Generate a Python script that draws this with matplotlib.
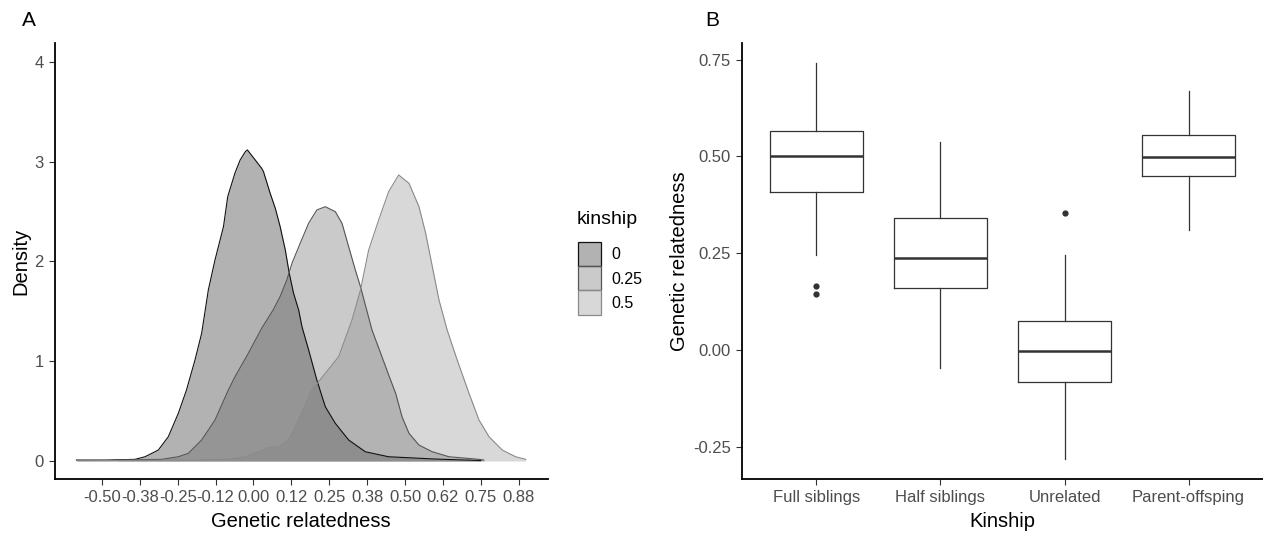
import numpy as np
import matplotlib
matplotlib.use("Agg")
import matplotlib.pyplot as plt
from matplotlib.patches import Patch

plt.rcParams['font.family'] = ['Liberation Sans', 'DejaVu Sans']

# ---- panel A: density curves ----
kin_levels = ["0", "0.25", "0.5"]

x_kin0 = [-0.584, -0.485, -0.391, -0.358, -0.314, -0.281, -0.248, -0.221, -0.193, -0.171,
          -0.154, -0.149, -0.127, -0.099, -0.085, -0.061, -0.044, -0.027, -0.020, 0.027,
          0.033, 0.055, 0.072, 0.088, 0.105, 0.118, 0.132, 0.149, 0.160, 0.182,
          0.209, 0.237, 0.270, 0.314, 0.369, 0.446, 0.600, 0.750]
d_kin0 = [0.01, 0.01, 0.017, 0.043, 0.11, 0.244, 0.478, 0.712, 1.013, 1.28,
          1.614, 1.714, 2.015, 2.349, 2.65, 2.887, 3.017, 3.10, 3.118, 2.934,
          2.90, 2.684, 2.533, 2.349, 2.115, 1.882, 1.684, 1.514, 1.346, 1.113,
          0.812, 0.544, 0.378, 0.211, 0.093, 0.043, 0.02, 0.005]

x_kin25 = [-0.446, -0.303, -0.248, -0.215, -0.171, -0.127, -0.083, -0.061, -0.017, 0.027,
           0.066, 0.088, 0.110, 0.127, 0.154, 0.182, 0.209, 0.237, 0.270, 0.292,
           0.314, 0.336, 0.353, 0.391, 0.436, 0.446, 0.469, 0.490, 0.513, 0.546,
           0.590, 0.645, 0.744, 0.760]
d_kin25 = [0.01, 0.017, 0.043, 0.077, 0.211, 0.411, 0.712, 0.845, 1.08, 1.33,
           1.52, 1.65, 1.815, 1.982, 2.182, 2.383, 2.516, 2.549, 2.499, 2.383,
           2.148, 1.915, 1.747, 1.313, 0.945, 0.862, 0.679, 0.444, 0.278, 0.16,
           0.093, 0.043, 0.017, 0.01]

x_kin5 = [-0.580, -0.200, -0.100, -0.083, -0.027, 0.017, 0.050, 0.083, 0.116, 0.149,
          0.193, 0.237, 0.281, 0.325, 0.353, 0.380, 0.413, 0.446, 0.479, 0.513,
          0.546, 0.568, 0.590, 0.612, 0.639, 0.672, 0.711, 0.744, 0.777, 0.821,
          0.865, 0.898]
d_kin5 = [0.003, 0.01, 0.015, 0.017, 0.043, 0.093, 0.137, 0.143, 0.211, 0.411,
          0.712, 0.879, 1.046, 1.414, 1.714, 2.115, 2.416, 2.70, 2.867, 2.784,
          2.549, 2.283, 1.948, 1.614, 1.313, 1.013, 0.679, 0.411, 0.244, 0.11,
          0.043, 0.017]

density_ticks = [-0.5, -0.375, -0.25, -0.125, 0.0, 0.125, 0.25, 0.375, 0.5, 0.625, 0.75, 0.875]

# ---- panel B: box plot summaries ----
kinship = ["Full siblings", "Half siblings", "Unrelated", "Parent-offsping"]
q1 = [0.409, 0.160, -0.083, 0.450]
med = [0.500, 0.238, -0.004, 0.499]
q3 = [0.566, 0.340, 0.074, 0.555]
whis_lo = [0.246, -0.046, -0.283, 0.310]
whis_hi = [0.740, 0.536, 0.244, 0.669]
outliers = [[0.165, 0.145], [], [0.354], []]

fill_cols = ["#000000", "#525252", "#808080"]
line_cols = ["#111111", "#555555", "#8a8a8a"]
alpha = 0.3
tick_col = "#4d4d4d"

fig = plt.figure(figsize=(12.63, 5.39), dpi=100)
axA = fig.add_axes([0.0435, 0.1113, 0.390, 0.809])
axB = fig.add_axes([0.5875, 0.1113, 0.4125, 0.809])

curves = [(x_kin0, d_kin0), (x_kin25, d_kin25), (x_kin5, d_kin5)]
for (xs, ds), fc, lc in zip(curves, fill_cols, line_cols):
    axA.fill_between(xs, 0, ds, color=fc, alpha=alpha, linewidth=0)
    axA.plot(xs, ds, color=lc, linewidth=0.8)

axA.set_xlim(-0.655, 0.97)
axA.set_ylim(-0.18, 4.19)
axA.set_xticks(density_ticks)
axA.set_xticklabels(["%.2f" % t for t in density_ticks])
axA.set_yticks([0, 1, 2, 3, 4])
axA.set_xlabel("Genetic relatedness", fontsize=14.5, labelpad=5)
axA.set_ylabel("Density", fontsize=14.5, labelpad=3)

# legend: title as separate text so the gap to the keys matches
handles = [Patch(facecolor=matplotlib.colors.to_rgba(fc, alpha), edgecolor=lc, linewidth=0.9)
           for fc, lc in zip(fill_cols, line_cols)]
fig.text(577 / 1263, 1 - 219 / 539, "kinship", fontsize=14, va="center", ha="left")
leg = fig.legend(handles, kin_levels, loc="upper left",
                 bbox_to_anchor=(567 / 1263, 1 - 231 / 539), frameon=False,
                 fontsize=11.5, handlelength=1.4, handleheight=1.95,
                 labelspacing=0.0, handletextpad=0.7, borderpad=0.2)

# box plot
stats = []
for i in range(len(kinship)):
    stats.append(dict(med=med[i], q1=q1[i], q3=q3[i], whislo=whis_lo[i],
                      whishi=whis_hi[i], fliers=outliers[i], label=kinship[i]))
axB.bxp(stats, positions=[1, 2, 3, 4], widths=0.75, showcaps=False,
        boxprops=dict(color="#333333", linewidth=0.9),
        whiskerprops=dict(color="#333333", linewidth=0.9),
        medianprops=dict(color="#333333", linewidth=1.8),
        flierprops=dict(marker="o", markersize=4.5, markerfacecolor="#333333",
                        markeredgecolor="none"))
axB.set_xlim(0.4, 4.6)
axB.set_ylim(-0.334, 0.793)
axB.set_yticks([-0.25, 0.0, 0.25, 0.5, 0.75])
axB.set_yticklabels(["-0.25", "0.00", "0.25", "0.50", "0.75"])
axB.set_xlabel("Kinship", fontsize=14.5, labelpad=5)
axB.set_ylabel("Genetic relatedness", fontsize=14.5, labelpad=3)

for ax in (axA, axB):
    for s in ("top", "right"):
        ax.spines[s].set_visible(False)
    for s in ("left", "bottom"):
        ax.spines[s].set_linewidth(1.3)
        ax.spines[s].set_color("black")
    ax.tick_params(length=4, width=0.8, color="#333333", labelcolor=tick_col,
                   labelsize=12, pad=4)

fig.text(22 / 1263, 1 - 20 / 539, "A", fontsize=15, va="center", ha="left")
fig.text(705 / 1263, 1 - 20 / 539, "B", fontsize=15, va="center", ha="left")

plt.savefig("out.png", dpi=100)
